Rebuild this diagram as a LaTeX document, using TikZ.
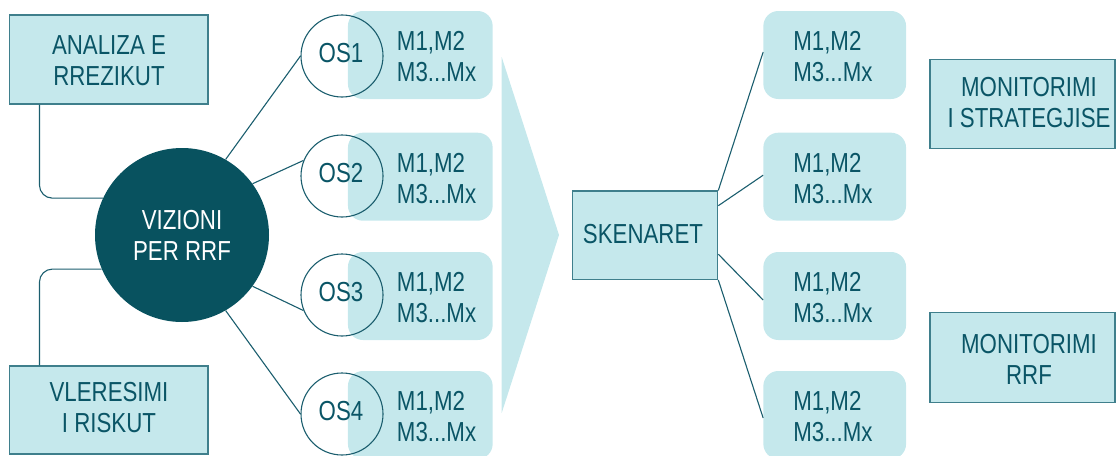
\documentclass[tikz,border=0pt]{standalone}
\usepackage{fontspec}
\setmainfont{Liberation Sans}[FakeStretch=0.81]
\definecolor{lightc}{HTML}{C5E8EC}
\definecolor{darkc}{HTML}{08525F}
\definecolor{inkc}{HTML}{0A5566}
\definecolor{linec}{HTML}{1B5E6E}
\definecolor{framec}{HTML}{3F7F8C}
\begin{document}
\begin{tikzpicture}[x=1pt,y=-1pt,
  font=\fontsize{27.5}{31}\selectfont,
  sqbox/.style={rectangle, draw=framec, fill=lightc, line width=1.2pt, inner sep=0pt},
  mbox/.style={rectangle, fill=lightc, rounded corners=15pt, minimum height=88pt, inner sep=0pt},
  osc/.style={circle, draw=linec, line width=1.1pt, minimum size=82pt, inner sep=0pt},
  txt/.style={text=inkc, align=center, inner sep=0pt},
  mtxt/.style={text=inkc, align=left, inner sep=0pt, anchor=west},
  link/.style={draw=linec, line width=1.1pt}]
\useasboundingbox (0,0) rectangle (1116,455);
\begin{scope}
\clip (0,0) rectangle (1116,455);

% left side boxes
\node[sqbox, minimum width=198.5pt, minimum height=89pt] (an) at (108.8,59.5) {};
\node[txt] (antxt) at (109,61) {ANALIZA E\\RREZIKUT};
\node[sqbox, minimum width=198.5pt, minimum height=88pt] (vl) at (108.8,410) {};
\node[txt] (vltxt) at (109,407.5) {VLERESIMI\\I RISKUT};

% central vision circle
\node[circle, fill=darkc, minimum size=174pt, inner sep=0pt, text=white, align=center] (viz) at (182,235) {VIZIONI\\PER RRF};

% rounded connectors to the boxes
\draw[link, rounded corners=13pt] ([xshift=30.5pt]an.south west) |- (viz.155.6);
\draw[link, rounded corners=13pt] ([xshift=30.5pt]vl.north west) |- (viz.203.7);

% big chevron
\fill[lightc] (501.7,57) -- (559,235) -- (501.7,413) -- cycle;

% measure boxes next to the objectives
\foreach \i/\y in {1/55,2/176.7,3/296,4/415}{
  \node[mbox, minimum width=144.7pt] (m\i) at (420.3,\y) {};
  \node[mtxt] (mt\i) at ([xshift=49pt,yshift=-2pt]m\i.west) {M1,M2\\M3...Mx};
}
% objective circles
\node[osc] (os1) at (342,56) {};
\node[osc] (os2) at (342,176) {};
\node[osc] (os3) at (342,295) {};
\node[osc] (os4) at (342,414) {};
\foreach \i in {1,...,4}{
  \node[txt] (ost\i) at ([xshift=-1pt,yshift=3pt]os\i.center) {OS\i};
}

% spokes from the vision
\draw[link] (viz.60) -- (os1.180);
\draw[link] (viz.36) -- (os2.158);
\draw[link] (viz.-36) -- (os3.202);
\draw[link] (viz.-60) -- (os4.180);

% scenarios
\node[sqbox, minimum width=145.4pt, minimum height=88.3pt] (sk) at (645,235.2) {};
\node[txt] (sktxt) at (643,234) {SKENARET};

\foreach \i/\y in {1/55,2/176.7,3/296,4/415}{
  \node[mbox, minimum width=142.7pt] (r\i) at (834.7,\y) {};
  \node[mtxt] (rt\i) at ([xshift=30pt,yshift=-2pt]r\i.west) {M1,M2\\M3...Mx};
}
\draw[link] (sk.north east) -- ([yshift=3pt]r1.west);
\draw[link] ([yshift=29.5pt]sk.east) -- ([yshift=1.5pt]r2.west);
\draw[link] ([yshift=-19pt]sk.east) -- ([yshift=-4pt]r3.west);
\draw[link] (sk.south east) -- ([yshift=-3pt]r4.west);

% monitoring boxes
\node[sqbox, minimum width=185pt, minimum height=89pt] (ms) at (1022.5,103.8) {};
\node[txt] (mstxt) at (1029,102.5) {MONITORIMI\\I STRATEGJISE};
\node[sqbox, minimum width=185pt, minimum height=89.6pt] (mr) at (1022.5,357.5) {};
\node[txt] (mrtxt) at (1029,359) {MONITORIMI\\RRF};
\end{scope}
\end{tikzpicture}
\end{document}
